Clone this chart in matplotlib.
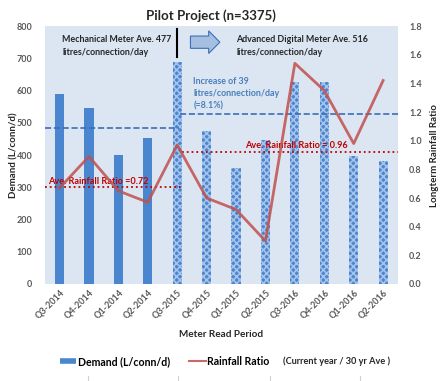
import matplotlib.pyplot as plt
from matplotlib.patches import FancyArrow
from matplotlib.lines import Line2D

plt.rcParams['font.family'] = ['Lato', 'DejaVu Sans']
plt.rcParams['font.weight'] = 'bold'
plt.rcParams['hatch.linewidth'] = 1.2

periods = ['Q3-2014', 'Q4-2014', 'Q1-2014', 'Q2-2014', 'Q3-2015', 'Q4-2015',
           'Q1-2015', 'Q2-2015', 'Q3-2016', 'Q4-2016', 'Q1-2016', 'Q2-2016']
demand = [589, 546, 400, 452, 688, 474, 359, 446, 627, 627, 398, 382]
rain_ratio = [0.67, 0.89, 0.65, 0.57, 0.97, 0.60, 0.52, 0.30, 1.54, 1.35, 0.98, 1.42]
n_mech = 4  # first four periods use mechanical meters

mech_ave_line = 485
adv_ave_line = 527
rain_ave_mech_line = 300
rain_ave_adv_line = 408

grey = '#595959'
blue = '#4a86d0'
red = '#c0504d'
B = 'bold'

fig = plt.figure(figsize=(4.44, 3.81), dpi=100)
ax = fig.add_axes([0.101, 0.2546, 0.795, 0.677])
ax.set_facecolor('#dce6f2')
x = list(range(len(periods)))

ax.bar(x[:n_mech], demand[:n_mech], width=0.31, color=blue, zorder=2)
ax.bar(x[n_mech:], demand[n_mech:], width=0.31, color=blue, hatch='xxxxx',
       edgecolor='#a4c2ea', linewidth=0, zorder=2)
ax.set_xlim(-0.5, len(periods) - 0.5)
ax.set_ylim(0, 800)
ax.set_yticks(range(0, 801, 100))
ax.set_xticks(x)
ax.set_xticklabels(periods, rotation=45, ha='right', rotation_mode='anchor')
ax.tick_params(axis='x', length=0, labelsize=6.5, colors=grey, pad=3)
ax.tick_params(axis='y', length=0, labelsize=6.5, colors=grey, pad=9)
for lab in ax.get_xticklabels() + ax.get_yticklabels():
    lab.set_fontweight(B)
for s in ax.spines.values():
    s.set_visible(False)
ax.set_ylabel('Demand (L/conn/d)', fontsize=7, color='#262626', fontweight=B)
ax.yaxis.set_label_coords(-0.076, 0.5)
ax.set_xlabel('Meter Read Period', fontsize=7.2, color='#262626', labelpad=7, fontweight=B)

# average lines
ax.plot([-0.5, 4.05], [mech_ave_line] * 2, ls='--', color='#3a6fb8', lw=1.2, zorder=3)
ax.plot([4.1, 11.5], [adv_ave_line] * 2, ls='--', color='#3a6fb8', lw=1.2, zorder=3)
ax.plot([-0.5, 4.15], [rain_ave_mech_line] * 2, ls=':', color='#c00000', lw=1.3, zorder=3)
ax.plot([4.15, 11.5], [rain_ave_adv_line] * 2, ls=':', color='#c00000', lw=1.3, zorder=3)

# divider and arrow
ax.plot([4, 4], [705, 792], color='black', lw=1.5, zorder=4)
ax.add_patch(FancyArrow(4.45, 750, 0.62, 0, width=38, head_width=70, head_length=0.38,
                        length_includes_head=False, facecolor='#a6bfe0',
                        edgecolor='#3a6fb8', lw=0.8, zorder=4))

ax.text(0.1, 738, 'Mechanical Meter Ave. 477\nlitres/connection/day', fontsize=6.4,
        color='#262626', linespacing=1.45, fontweight=B, va='center')
ax.text(6.0, 738, 'Advanced Digital Meter Ave. 516\nlitres/connection/day', fontsize=6.4,
        color='#262626', linespacing=1.45, fontweight=B, va='center')
ax.text(4.55, 590, 'Increase of 39\nlitres/connection/day\n(=8.1%)', fontsize=6.4,
        color='#4a7ebb', linespacing=1.45, fontweight=B, va='center')
ax.text(-0.4, 319, 'Ave. Rainfall Ratio =0.72', fontsize=6.6, color='#c00000',
        fontweight=B, va='center')
ax.text(6.3, 431, 'Ave. Rainfall Ratio = 0.96', fontsize=6.6, color='#c00000',
        fontweight=B, va='center')

ax2 = ax.twinx()
ax2.plot(x, rain_ratio, color=red, lw=2, alpha=0.85, zorder=5)
ax2.set_ylim(0, 1.8)
ax2.set_yticks([i * 0.2 for i in range(10)])
ax2.set_yticklabels(['%.1f' % (i * 0.2) for i in range(10)], fontweight=B)
ax2.tick_params(length=0, labelsize=6.5, colors=grey, pad=8)
for s in ax2.spines.values():
    s.set_visible(False)
ax2.set_ylabel('Longterm Rainfall Ratio', fontsize=7, color='#262626', labelpad=6,
               fontweight=B)

fig.suptitle('Pilot Project (n=3375)', fontsize=9.5, color='#262626', x=0.475, y=0.975,
             fontweight=B)

handles = [Line2D([], [], color=blue, lw=4, solid_capstyle='butt'),
           Line2D([], [], color=red, lw=1.5, alpha=0.85)]
fig.legend(handles, ['Demand (L/conn/d)', 'Rainfall Ratio'], loc='center',
           bbox_to_anchor=(0.37, 0.052), ncol=2, frameon=False,
           prop={'size': 7.6, 'weight': B},
           handlelength=1.6, handletextpad=0.1, columnspacing=1.8)
fig.text(0.637, 0.052, '(Current year / 30 yr Ave )', fontsize=6.6, va='center',
         color='#262626', fontweight=B)

# faint separators at the bottom edge
for fx in [88, 178, 270, 360]:
    fig.add_artist(Line2D([fx / 444] * 2, [0, 5 / 381], color='#d0d0d0', lw=0.8))

fig.savefig('out.png', dpi=100)
